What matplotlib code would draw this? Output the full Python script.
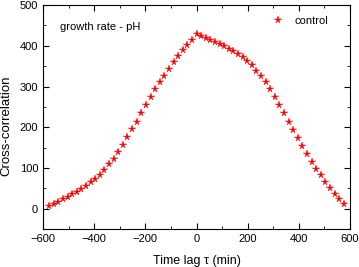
import numpy as np
import matplotlib
matplotlib.use('Agg')
import matplotlib.pyplot as plt
from matplotlib.ticker import MultipleLocator

plt.rcParams['font.family'] = ['Liberation Sans', 'DejaVu Sans']

lag = np.arange(-576, 577, 18)
control = [6, 11, 17, 23, 29, 35, 42, 48, 56, 65, 73, 83, 96, 109, 123, 140,
           157, 176, 195, 214, 235, 255, 275, 293, 311, 327, 344, 360, 375, 389,
           402, 415, 429, 424, 419, 414, 409, 404, 399, 393, 388, 381, 372, 362,
           352, 339, 325, 310, 293, 275, 255, 235, 214, 193, 173, 153, 134, 115,
           98, 82, 65, 51, 37, 24, 11]

fig = plt.figure(figsize=(3.59, 2.67), dpi=100)
ax = fig.add_axes([0.12, 0.142, 0.855, 0.839])

ax.plot(lag, control, '*', color='red', markersize=5.5, markeredgewidth=0.3,
        linestyle='none', label='control')

ax.set_xlim(-600, 600)
ax.set_ylim(-50, 500)
ax.xaxis.set_major_locator(MultipleLocator(200))
ax.xaxis.set_minor_locator(MultipleLocator(100))
ax.yaxis.set_major_locator(MultipleLocator(100))
ax.yaxis.set_minor_locator(MultipleLocator(50))
ax.tick_params(which='both', direction='in', top=True, right=True, labelsize=8)
ax.tick_params(which='major', length=4)
ax.tick_params(which='minor', length=2.5)

ax.set_xlabel('Time lag τ (min)', fontsize=9, labelpad=8)
ax.set_ylabel('Cross-correlation', fontsize=9.5)
ax.yaxis.set_label_coords(-0.1, 0.46)

ax.text(-535, 447, 'growth rate - pH', fontsize=8, va='center')
ax.legend(loc='upper right', frameon=False, fontsize=8, handletextpad=0.5,
          borderaxespad=0.6, bbox_to_anchor=(0.965, 1.0))

fig.savefig('out.png', dpi=100)
